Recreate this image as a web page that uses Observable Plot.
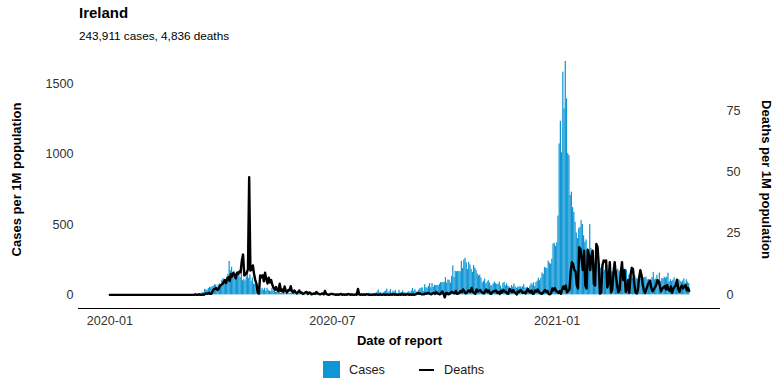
<!DOCTYPE html>
<html>
<head>
<meta charset="utf-8">
<script src="https://cdn.jsdelivr.net/npm/d3@7"></script>
<script src="https://cdn.jsdelivr.net/npm/@observablehq/plot@0.6"></script>
<style>
  html, body { margin: 0; padding: 0; background: #fff; }
  body { font-family: "Liberation Sans", Arial, Helvetica, sans-serif; }
  #wrap { position: relative; width: 784px; height: 392px; overflow: hidden; }
  #title { position: absolute; left: 79px; top: 5px; font-size: 15px; line-height: 15px; font-weight: bold; color: #000; white-space: nowrap; }
  #subtitle { position: absolute; left: 79px; top: 30px; font-size: 11.75px; line-height: 11.75px; color: #000; white-space: nowrap; }
  #chart { position: absolute; left: 0; top: 45px; }
  #chart svg { overflow: visible; }
  .lg { position: absolute; font-size: 12.7px; line-height: 12.7px; color: #1a1a1a; white-space: nowrap; }
</style>
</head>
<body>
<div id="wrap">
  <div id="title"></div>
  <div id="subtitle"></div>
  <div id="chart"></div>
  <div id="legend"></div>
</div>
<script>
// ---------- text ----------
const titleText = "Ireland";
const subtitleText = "243,911 cases, 4,836 deaths";
const yLeftTitle = "Cases per 1M population";
const yRightTitle = "Deaths per 1M population";
const xTitle = "Date of report";
const legendLabels = ["Cases", "Deaths"];

// ---------- axes ----------
const caseTicks = [0, 500, 1000, 1500];
const deathTicks = [0, 25, 50, 75];
const xTickDates = ["2020-01-01", "2020-07-01", "2021-01-01"];
const xTickLabels = ["2020-01", "2020-07", "2021-01"];

// ---------- data (daily, per 1M population), first day: ----------
const startDate = "2020-01-01";

const cases = [
  // 2020-01
  0,0,0,0,0,0,0,0,0,0, 0,0,0,0,0,0,0,0,0,0, 0,0,0,0,0,0,0,0,0,0,0,
  // 2020-02
  0,0,0,0,0,0,0,0,0,0, 0,0,0,0,0,0,0,0,0,0, 0,0,0,0,0,0,0,0,0.2,
  // 2020-03
  0,0,0.2,0.8,1.4,1,0.2,0.4,0.6,2, 1.8,5.5,4,8,8,11,14,15,39,36, 31,45,54,51,58,62,71,70,50,70,78,
  // 2020-04
  72,102,116,99,97,125,145,237,172,196, 151,168,140,133,165,147,121,158,100,111, 99,128,172,117,142,96,120,76,75,70,
  // 2020-05
  45,68,45,30,46,33,47,27,47,32, 27,22,46,27,23,17,21,13,18,10, 15,13,11,8,13,16,8,12,10,13,10,
  // 2020-06
  7,5,4,8,5,6,4,3,5,4, 4,3,6,3,2,3,2,5,3,4, 2,3,2,2,5,3,4,2,3,2,
  // 2020-07
  2,3,4,2,3,4,3,5,4,5, 3,4,6,5,4,5,7,4,5,4, 6,8,5,6,4,3,5,7,8,9,12,
  // 2020-08
  9,11,8,6,7,12,20,35,13,17, 7,14,21,27,41,13,23,38,13,27, 19,32,12,9,32,13,17,28,16,14,11,
  // 2020-09
  18,23,15,27,46,25,37,21,18,33, 43,46,51,24,72,50,48,60,81,50, 80,54,68,65,66,64,75,86,88,87,
  // 2020-10
  90,122,83,105,104,84,131,205,124,167, 164,167,165,164,238,187,247,260,227,180, 231,213,181,160,208,192,175,149,135,140,120,
  // 2020-11
  84,96,112,78,90,101,85,64,66,78, 91,80,74,75,91,64,46,82,89,64, 78,61,55,44,66,55,77,58,46,54,
  // 2020-12
  54,60,50,57,72,48,50,54,44,62, 80,70,86,58,87,97,118,100,118,155, 146,195,190,187,240,225,218,254,361,366,345,
  // 2021-01
  370,560,1073,1234,1010,1583,1322,1659,1393,1005, 990,706,730,620,587,516,440,400,470,480, 528,500,420,374,390,330,300,499,330,290,260,
  // 2021-02
  222,210,233,205,220,190,178,163,175,215, 210,173,204,220,164,135,183,154,172,182, 167,140,117,152,131,183,176,112,
  // 2021-03
  141,100,132,117,149,133,118,111,103,110, 131,102,123,122,126,106,110,96,97,123, 160,107,113,139,105,155,95,116,113,125,118,
  // 2021-04
  126,154,92,108,95,104,121,85,88,103, 106,96,88,98,114,81,107,90,80
];

const deaths = [
  // 2020-01
  0,0,0,0,0,0,0,0,0,0, 0,0,0,0,0,0,0,0,0,0, 0,0,0,0,0,0,0,0,0,0,0,
  // 2020-02
  0,0,0,0,0,0,0,0,0,0, 0,0,0,0,0,0,0,0,0,0, 0,0,0,0,0,0,0,0,0,
  // 2020-03
  0,0,0,0,0,0,0,0,0,0, 0.2,0,0,0.2,0,0,0.2,0,0.4,0.6, 0.4,0.8,0.4,0.4,1.4,2.2,2.4,2.8,2,2.4,3.6,
  // 2020-04
  4.0,4.3,5.0,6.0,4.8,6.5,7.2,5.6,8.5,7.5, 8.9,8.3,6.7,9.0,8.5,9.5,9.2,14.0,16.4,7.9, 8.3,9.0,10.4,47.9,9.9,10.3,12.0,8.5,6.0,4.5,
  // 2020-05
  1.0,0.5,7.9,7.2,8.0,5.5,9.0,6.5,4.6,7.0, 5.0,6.0,4.0,2.8,2.0,3.2,2.0,1.4,4.5,1.6, 2.2,1.2,3.4,1.6,1.0,2.0,1.8,3.5,1.4,1.0,1.8,
  // 2020-06
  1.0,0.6,1.2,1.8,0.8,1.0,0.4,0.6,1.0,1.2, 0.4,1.0,0.8,0.2,0.4,0.6,0.4,1.2,0.6,0.4, 0.2,0.4,0.6,0.2,1.6,0.4,0.2,0,0.2,0.4,
  // 2020-07
  0.4,0.2,0.2,0,0.2,0,0.2,0.4,0,0.2, 0,0.2,0,0.4,0.2,0,0.2,0,0,0.2, 0,2.4,0.2,0,0.2,0,0.2,0,0.2,0.2,0,
  // 2020-08
  0,0,0,0.2,0,0.2,0,0,0.2,0, 0,0.2,0,0,0.2,0,0,0.2,0,0.4, 0,0.2,0,0,0.2,0,0.4,0,0.2,0,0.2,
  // 2020-09
  0.2,0,0.2,0,0.2,0,0.2,0.4,0.8,0.4, 0.6,0.2,0.2,0.2,0.6,0.4,0.8,0.6,0.4,0.2, 0.6,0.8,0.4,1.2,0.6,0.4,0.2,0.6,1.4,0.4,
  // 2020-10
  -1.0,0.6,0.8,0.2,0.4,1.0,1.2,0.8,0.6,1.6, 0.4,0.6,0.8,1.6,1.2,2.2,1.4,0.6,0.8,1.6, 1.8,1.2,2.8,1.2,0.8,0.4,2.2,1.4,1.6,2.0,1.2,
  // 2020-11
  0.8,0.6,1.4,2.2,1.2,1.8,0.6,0.4,1.2,1.4, 1.6,1.8,0.8,1.2,0.4,1.6,1.0,2.0,1.4,1.2, 0.6,0.4,2.4,1.8,1.2,2.0,1.0,0.8,0.2,1.4,
  // 2020-12
  1.2,2.0,1.4,0.8,1.0,0.6,1.6,2.4,1.4,1.0, 1.8,0.4,0.6,1.8,1.4,2.2,1.2,0.8,0.4,0.6, 1.4,2.0,1.2,1.6,0.4,0.2,0.6,2.6,1.8,2.8,1.8,
  // 2021-01
  1.2,0.8,1.6,0.4,2.0,3.4,2.4,3.8,1.0,1.6, 2.2,9.3,13.3,12.6,10.1,9.5,4.1,2.6,19.4,18.7, 14.2,10.1,18.0,3.8,2.6,18.3,16.0,10.1,15.8,18.0,4.5,
  // 2021-02
  3.8,20.7,19.5,12.0,0.5,1.0,12.0,14.0,13.5,14.0, 3.0,5.0,13.3,1.0,2.0,9.0,13.3,8.0,4.0,1.0, 2.0,9.0,13.3,6.0,10.0,1.2,2.0,6.0,
  // 2021-03
  0.8,8.0,11.0,10.5,5.0,1.0,0.6,2.0,7.0,10.0, 8.0,4.0,1.6,0.8,2.4,4.0,5.0,5.8,2.8,1.4, 2.2,3.0,4.0,6.0,5.6,3.6,1.4,2.6,3.0,3.6,2.2,
  // 2021-04
  4.0,2.0,1.6,3.4,0.8,2.4,3.2,4.0,6.2,2.4, 1.2,3.0,3.8,2.6,3.4,4.0,1.8,2.8,1.6
];

// ---------- build ----------
const blue = "#0f96d4";
const k = 17.47;                 // deaths axis -> cases axis ratio
const yMin = -97, yMax = 1737;   // panel extent in case units
const xDomain = [new Date("2019-12-06T09:00:00Z"), new Date("2021-05-14T14:00:00Z")];

const t0 = new Date(startDate + "T00:00:00Z");
const rows = cases.map((c, i) => ({
  date: d3.utcDay.offset(t0, i),
  cases: c,
  deaths: deaths[i]
}));
const half = 12 * 3600 * 1000;

document.getElementById("title").textContent = titleText;
document.getElementById("subtitle").textContent = subtitleText;

const plot = Plot.plot({
  width: 784,
  height: 305,
  marginLeft: 78,
  marginRight: 64,
  marginTop: 5,
  marginBottom: 42,
  style: { fontFamily: "'Liberation Sans', Arial, Helvetica, sans-serif", fontSize: "12.6px", color: "#333", background: "transparent", overflow: "visible" },
  x: { type: "utc", domain: xDomain },
  y: { domain: [yMin, yMax] },
  marks: [
    Plot.rectY(rows, {
      x1: d => new Date(+d.date - half),
      x2: d => new Date(+d.date + half),
      y: "cases",
      fill: blue
    }),
    Plot.line(rows, { x: "date", y: d => d.deaths * k, stroke: "black", strokeWidth: 2.4, strokeLinejoin: "round" }),
    Plot.ruleY([yMin], { stroke: "black", strokeWidth: 1.1 }),
    Plot.axisY({ anchor: "left", ticks: caseTicks, tickFormat: v => String(v), tickSize: 0, tickPadding: 5, label: null, fill: "#333" }),
    Plot.axisY({ anchor: "right", ticks: deathTicks.map(v => v * k), tickFormat: v => String(deathTicks[deathTicks.findIndex(t => Math.abs(t * k - v) < 1e-6)]), tickSize: 0, tickPadding: 6, label: null, fill: "#333" }),
    Plot.axisX({ ticks: xTickDates.map(s => new Date(s + "T00:00:00Z")), tickFormat: d => xTickLabels[xTickDates.findIndex(s => +new Date(s + "T00:00:00Z") === +d)], tickSize: 0, tickPadding: 8, label: null, fill: "#333" }),
    Plot.text([yLeftTitle], { text: d => d, frameAnchor: "left", textAnchor: "middle", lineAnchor: "middle", dx: -62, rotate: -90, fontWeight: "bold", fontSize: 13, fill: "black" }),
    Plot.text([yRightTitle], { text: d => d, frameAnchor: "right", textAnchor: "middle", lineAnchor: "middle", dx: 46, rotate: 90, fontWeight: "bold", fontSize: 13, fill: "black" }),
    Plot.text([xTitle], { text: d => d, frameAnchor: "bottom", textAnchor: "middle", lineAnchor: "middle", dy: 32.5, fontWeight: "bold", fontSize: 13, fill: "black" })
  ]
});
document.getElementById("chart").appendChild(plot);

// ---------- legend ----------
const lg = document.getElementById("legend");
lg.innerHTML = `
  <div style="position:absolute;left:323px;top:361px;width:17px;height:17px;background:${blue}"></div>
  <div class="lg" style="left:349px;top:363.6px">${legendLabels[0]}</div>
  <div style="position:absolute;left:419px;top:368.8px;width:15px;height:2.5px;background:#000"></div>
  <div class="lg" style="left:444px;top:363.6px">${legendLabels[1]}</div>
`;
</script>
</body>
</html>
